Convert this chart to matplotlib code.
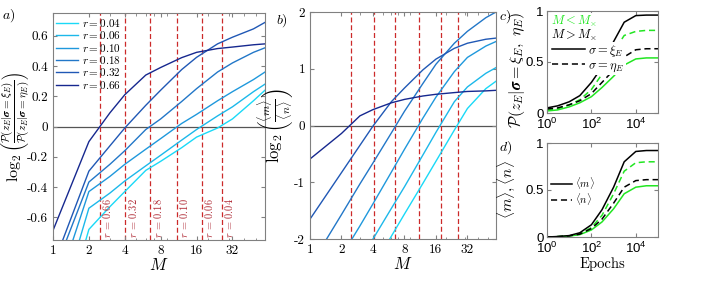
import numpy as np
import matplotlib
matplotlib.use('Agg')
import matplotlib.pyplot as plt
from matplotlib.lines import Line2D
from matplotlib.ticker import FixedLocator, FixedFormatter, NullFormatter
import matplotlib.transforms as mtransforms

plt.rcParams['mathtext.fontset'] = 'cm'
plt.rcParams['font.family'] = ['Liberation Sans', 'DejaVu Sans']

# ---------------- data ----------------
r_labels = ['0.04', '0.06', '0.10', '0.18', '0.32', '0.66']
M_cross = [26.0, 17.7, 10.9, 6.55, 4.05, 2.47]
M_grid = [1, 2, 3, 4, 6, 8, 12, 16, 24, 32, 48, 60]

# panel a: log2 P ratio
logP_r004 = [-1.50, -0.68, -0.53, -0.43, -0.29, -0.23, -0.14, -0.07, -0.01, 0.05, 0.17, 0.24]
logP_r006 = [-1.34, -0.54, -0.44, -0.36, -0.26, -0.19, -0.09, -0.02, 0.07, 0.13, 0.23, 0.28]
logP_r010 = [-1.15, -0.43, -0.33, -0.25, -0.15, -0.08, 0.02, 0.08, 0.17, 0.23, 0.31, 0.36]
logP_r018 = [-0.98, -0.367, -0.25, -0.16, -0.02, 0.05, 0.165, 0.25, 0.36, 0.42, 0.49, 0.52]
logP_r032 = [-0.92, -0.295, -0.128, -0.01, 0.14, 0.24, 0.376, 0.457, 0.546, 0.59, 0.645, 0.688]
logP_r066 = [-0.687, -0.10, 0.09, 0.21, 0.34, 0.39, 0.455, 0.49, 0.515, 0.525, 0.54, 0.546]

# panel b: log2 <m>/<n>
logmn_r004 = [-4.34, -3.41, -2.87, -2.50, -1.95, -1.56, -1.02, -0.63, -0.08, 0.30, 0.65, 0.78]
logmn_r006 = [-3.90, -2.97, -2.43, -2.00, -1.46, -1.08, -0.52, -0.12, 0.42, 0.68, 0.92, 1.02]
logmn_r010 = [-3.30, -2.30, -1.77, -1.38, -0.82, -0.42, 0.13, 0.50, 0.95, 1.20, 1.40, 1.48]
logmn_r018 = [-2.48, -1.57, -1.03, -0.66, -0.13, 0.25, 0.74, 1.08, 1.45, 1.66, 1.90, 2.00]
logmn_r032 = [-1.65, -0.83, -0.35, -0.01, 0.42, 0.66, 0.98, 1.17, 1.36, 1.45, 1.52, 1.54]
logmn_r066 = [-0.59, -0.14, 0.17, 0.28, 0.40, 0.46, 0.52, 0.55, 0.58, 0.60, 0.61, 0.62]

# panels c, d
epochs = [1, 3, 10, 30, 100, 300, 1000, 3000, 1e4, 3e4, 1e5]
Pc_above_xi = [0.05, 0.07, 0.11, 0.17, 0.30, 0.45, 0.70, 0.89, 0.955, 0.96, 0.96]
Pc_below_eta = [0.03, 0.04, 0.08, 0.13, 0.23, 0.38, 0.60, 0.76, 0.80, 0.81, 0.81]
Pc_above_eta = [0.04, 0.05, 0.08, 0.12, 0.19, 0.30, 0.42, 0.55, 0.62, 0.63, 0.63]
Pc_below_xi = [0.02, 0.03, 0.06, 0.10, 0.16, 0.25, 0.36, 0.47, 0.53, 0.54, 0.54]

m_above = [0.0, 0.005, 0.015, 0.045, 0.13, 0.29, 0.53, 0.80, 0.91, 0.92, 0.92]
m_below = [0.0, 0.004, 0.012, 0.035, 0.10, 0.23, 0.46, 0.70, 0.79, 0.80, 0.80]
n_above = [0.0, 0.004, 0.012, 0.030, 0.09, 0.19, 0.36, 0.53, 0.60, 0.61, 0.61]
n_below = [0.0, 0.003, 0.010, 0.025, 0.075, 0.16, 0.30, 0.46, 0.53, 0.545, 0.545]

colors = ['#1ad9f7', '#1cb8ea', '#1f98dc', '#2277c8', '#2058b5', '#16288f']
green = '#22e622'
red = '#cc2a2a'
spine_c = '#808080'

fig = plt.figure(figsize=(7.27, 2.90), dpi=100)
W, H = 727, 290
def add_ax(l, r, t, b):
    return fig.add_axes([l / W, 1 - b / H, (r - l) / W, (b - t) / H])

ax_a = add_ax(53, 265, 13, 240)
ax_b = add_ax(310, 496, 12, 239)
ax_c = add_ax(547, 658, 11, 113)
ax_d = add_ax(547, 658, 143, 237)

def style_box(ax):
    for s in ax.spines.values():
        s.set_color(spine_c)
        s.set_linewidth(0.8)
    ax.tick_params(which='both', direction='in', top=True, right=True, color=spine_c)
    ax.tick_params(which='major', length=3)
    ax.tick_params(which='minor', length=1.8)

def log2_xaxis(ax):
    ax.set_xscale('log', base=2)
    ax.set_xlim(1, 60)
    ax.xaxis.set_major_locator(FixedLocator([1, 2, 4, 8, 16, 32]))
    ax.xaxis.set_major_formatter(FixedFormatter(['1', '2', '4', '8', '16', '32']))
    ax.xaxis.set_minor_locator(FixedLocator([3, 5, 6, 7, 9, 20, 30, 40, 50, 60]))
    ax.xaxis.set_minor_formatter(NullFormatter())
    for lab in ax.get_xticklabels():
        lab.set_fontfamily('cmr10')
        lab.set_fontsize(9.5)
    ax.set_xlabel('$M$', fontsize=12, labelpad=0)

# ---------- panel a ----------
a_series = [logP_r004, logP_r006, logP_r010, logP_r018, logP_r032, logP_r066]
for vals, c, lab in zip(a_series, colors, r_labels):
    ax_a.plot(M_grid, vals, color=c, lw=1.0, label='$r = %s$' % lab)
ax_a.axhline(0, color='#555555', lw=0.9, zorder=1)
for mx, lab in zip(M_cross, r_labels):
    ax_a.axvline(mx, color=red, lw=0.9, ls=(0, (4, 2.2)), zorder=1.5)
    trans = mtransforms.blended_transform_factory(ax_a.transData, ax_a.transAxes)
    ax_a.annotate('$r$ = %s' % lab, xy=(mx, 0), xycoords=trans,
                  xytext=(1.0, 1.5), textcoords='offset points',
                  rotation=90, ha='left', va='bottom', fontsize=7.5,
                  color='#b02a35', fontfamily='cmr10')
ax_a.set_ylim(-0.75, 0.75)
yt = [-0.6, -0.4, -0.2, 0, 0.2, 0.4, 0.6]
ax_a.set_yticks(yt)
ax_a.set_yticklabels(['-0.6', '-0.4', '-0.2', '0', '0.2', '0.4', '0.6'],
                     fontfamily='cmr10', fontsize=9.5)
log2_xaxis(ax_a)
style_box(ax_a)
ax_a.set_ylabel(r'$\log_2\left(\frac{\mathcal{P}(\boldsymbol{z_E}|\boldsymbol{\sigma}=\boldsymbol{\xi_E})}'
                r'{\mathcal{P}(\boldsymbol{z_E}|\boldsymbol{\sigma}=\boldsymbol{\eta_E})}\right)$',
                fontsize=11.5)
ax_a.yaxis.set_label_coords(-0.098, 0.5)
leg = ax_a.legend(loc='upper left', bbox_to_anchor=(56 / W, 1 - 17 / H),
                  bbox_transform=fig.transFigure, frameon=False, fontsize=8,
                  handlelength=2.0, handletextpad=0.3, labelspacing=0.03,
                  borderpad=0, borderaxespad=0)

# ---------- panel b ----------
b_series = [logmn_r004, logmn_r006, logmn_r010, logmn_r018, logmn_r032, logmn_r066]
for vals, c in zip(b_series, colors):
    ax_b.plot(M_grid, vals, color=c, lw=1.0)
ax_b.axhline(0, color='#555555', lw=0.9, zorder=1)
for mx in M_cross:
    ax_b.axvline(mx, color=red, lw=0.9, ls=(0, (4, 2.2)), zorder=1.5)
ax_b.set_ylim(-2, 2)
ax_b.set_yticks([-2, -1, 0, 1, 2])
ax_b.set_yticklabels(['-2', '-1', '0', '1', '2'], fontfamily='cmr10', fontsize=9.5)
log2_xaxis(ax_b)
style_box(ax_b)
ax_b.set_ylabel(r'$\log_2\left(\frac{\langle m\rangle}{\langle n\rangle}\right)$',
                fontsize=12)
ax_b.yaxis.set_label_coords(-0.075, 0.5)

# ---------- panel c ----------
ax_c.plot(epochs, Pc_below_xi, color=green, lw=1.1)
ax_c.plot(epochs, Pc_below_eta, color=green, lw=1.1, ls=(0, (4, 2.5)))
ax_c.plot(epochs, Pc_above_eta, color='black', lw=1.1, ls=(0, (4, 2.5)))
ax_c.plot(epochs, Pc_above_xi, color='black', lw=1.1)

def log10_xaxis(ax):
    ax.set_xscale('log')
    ax.set_xlim(1, 1e5)
    ax.xaxis.set_major_locator(FixedLocator([1, 1e2, 1e4]))
    ax.xaxis.set_minor_locator(FixedLocator([]))
    ax.set_xticklabels([r'$\mathdefault{10^{0}}$', r'$\mathdefault{10^{2}}$', r'$\mathdefault{10^{4}}$'],
                       fontsize=9.5)
    ax.set_ylim(0, 1)
    ax.set_yticks([0, 0.5, 1])
    ax.set_yticklabels(['0', '0.5', '1'], fontsize=9.5)
    ax.tick_params(axis='x', pad=2.5)
    ax.tick_params(axis='y', pad=2.5)

log10_xaxis(ax_c)
style_box(ax_c)
ax_c.set_ylabel(r'$\mathcal{P}(\boldsymbol{z_E}|\boldsymbol{\sigma}=\boldsymbol{\xi_E},\ \boldsymbol{\eta_E})$',
                fontsize=11.5)
ax_c.yaxis.set_label_coords(-0.18, 0.42)
tb = dict(facecolor='white', edgecolor='none', pad=0.5)
ax_c.text(0.04, 0.895, r'$M < M_{\times}$', transform=ax_c.transAxes, color=green,
          fontsize=9, va='center', ha='left', bbox=tb, zorder=5)
ax_c.text(0.04, 0.765, r'$M > M_{\times}$', transform=ax_c.transAxes, color='black',
          fontsize=9, va='center', ha='left', bbox=tb, zorder=5)
h1 = Line2D([], [], color='black', lw=1.1)
h2 = Line2D([], [], color='black', lw=1.1, ls=(0, (4, 2.5)))
legc = ax_c.legend([h1, h2], [r'$\sigma = \xi_E$', r'$\sigma = \eta_E$'],
                   loc='upper left', bbox_to_anchor=(0.035, 0.7), frameon=True,
                   facecolor='white', edgecolor='none', framealpha=1.0,
                   fontsize=9, handlelength=2.6, handletextpad=0.3,
                   labelspacing=0.05, borderpad=0.1, borderaxespad=0)
legc.set_zorder(5)

# ---------- panel d ----------
ax_d.plot(epochs, n_below, color=green, lw=1.1)
ax_d.plot(epochs, m_below, color=green, lw=1.1, ls=(0, (4, 2.5)))
ax_d.plot(epochs, n_above, color='black', lw=1.1, ls=(0, (4, 2.5)))
ax_d.plot(epochs, m_above, color='black', lw=1.1)
log10_xaxis(ax_d)
style_box(ax_d)
ax_d.set_ylabel(r'$\langle m\rangle, \langle n\rangle$', fontsize=11)
ax_d.yaxis.set_label_coords(-0.27, 0.5)
ax_d.set_xlabel('Epochs', fontfamily='cmr10', fontsize=10.5, labelpad=1)
legd = ax_d.legend([h1, h2], [r'$\langle m\rangle$', r'$\langle n\rangle$'],
                   loc='upper left', bbox_to_anchor=(0.04, 0.66), frameon=False,
                   fontsize=7.5, handlelength=2.0, handletextpad=0.3,
                   labelspacing=0.05, borderpad=0, borderaxespad=0)

# panel labels
for x, y, s in [(2, 19, 'a)'), (276, 24, 'b)'), (499, 20, 'c)'), (499, 151, 'd)')]:
    fig.text(x / W, 1 - y / H, '$%s$' % s, fontsize=10, ha='left', va='baseline')

fig.savefig('out.png', dpi=100)
